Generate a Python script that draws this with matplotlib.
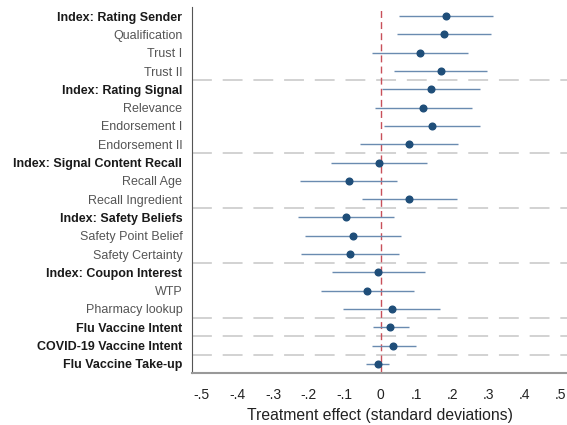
import matplotlib.pyplot as plt

plt.rcParams['font.family'] = ['Liberation Sans', 'DejaVu Sans']

labels = ["Index: Rating Sender", "Qualification", "Trust I", "Trust II",
          "Index: Rating Signal", "Relevance", "Endorsement I", "Endorsement II",
          "Index: Signal Content Recall", "Recall Age", "Recall Ingredient",
          "Index: Safety Beliefs", "Safety Point Belief", "Safety Certainty",
          "Index: Coupon Interest", "WTP", "Pharmacy lookup",
          "Flu Vaccine Intent", "COVID-19 Vaccine Intent", "Flu Vaccine Take-up"]
bold = ["Index: Rating Sender", "Index: Rating Signal", "Index: Signal Content Recall",
        "Index: Safety Beliefs", "Index: Coupon Interest",
        "Flu Vaccine Intent", "COVID-19 Vaccine Intent", "Flu Vaccine Take-up"]
est = [0.182, 0.176, 0.109, 0.167, 0.139, 0.119, 0.142, 0.078, -0.006, -0.089,
       0.078, -0.098, -0.076, -0.085, -0.007, -0.038, 0.030, 0.026, 0.035, -0.009]
lo = [0.052, 0.045, -0.025, 0.037, 0.003, -0.016, 0.009, -0.058, -0.139, -0.225,
      -0.053, -0.231, -0.211, -0.222, -0.137, -0.167, -0.104, -0.022, -0.024, -0.041]
hi = [0.314, 0.307, 0.244, 0.295, 0.277, 0.253, 0.277, 0.214, 0.130, 0.045,
      0.212, 0.037, 0.057, 0.051, 0.123, 0.093, 0.165, 0.079, 0.098, 0.023]
separators = [4.5, 8.5, 11.5, 14.5, 17.5, 18.5, 19.5]
xticks = [-0.5, -0.4, -0.3, -0.2, -0.1, 0, 0.1, 0.2, 0.3, 0.4, 0.5]
xticklabels = ["-.5", "-.4", "-.3", "-.2", "-.1", "0", ".1", ".2", ".3", ".4", ".5"]

fig = plt.figure(figsize=(5.67, 4.25), dpi=100)
ax = fig.add_axes([0.3386, 0.1224, 0.6614, 0.8611])

pos = list(range(1, len(labels) + 1))

# group separators
for s in separators:
    ax.axhline(s, color="#cfcfcf", lw=1.3, dashes=(11, 6), zorder=1)

ax.axvline(0, color="#c8505a", lw=1.0, dashes=(5, 3), zorder=2)

ax.hlines(pos, lo, hi, color="#6a8bb0", lw=1.0, zorder=3)
ax.plot(est, pos, "o", color="#1f4e79", ms=4.8, zorder=4)

ax.set_ylim(20.5, 0.5)
ax.set_xlim(-0.526, 0.519)
ax.set_yticks(pos)
ax.set_yticklabels(labels, fontsize=9)
for t in ax.get_yticklabels():
    if t.get_text() in bold:
        t.set_fontweight("bold")
        t.set_color("#1a1a1a")
    else:
        t.set_color("#555555")
ax.set_xticks(xticks)
ax.set_xticklabels(xticklabels, fontsize=10, color="#222222")
ax.tick_params(axis="x", length=0, pad=11)
ax.tick_params(axis="y", length=0, pad=7)
ax.set_xlabel("Treatment effect (standard deviations)", fontsize=11.3, color="#222222", labelpad=4)

ax.spines["top"].set_visible(False)
ax.spines["right"].set_visible(False)
ax.spines["left"].set_color("#555555")
ax.spines["bottom"].set_color("#999999")
ax.spines["bottom"].set_linewidth(1.5)

fig.savefig("out.png", dpi=100)
